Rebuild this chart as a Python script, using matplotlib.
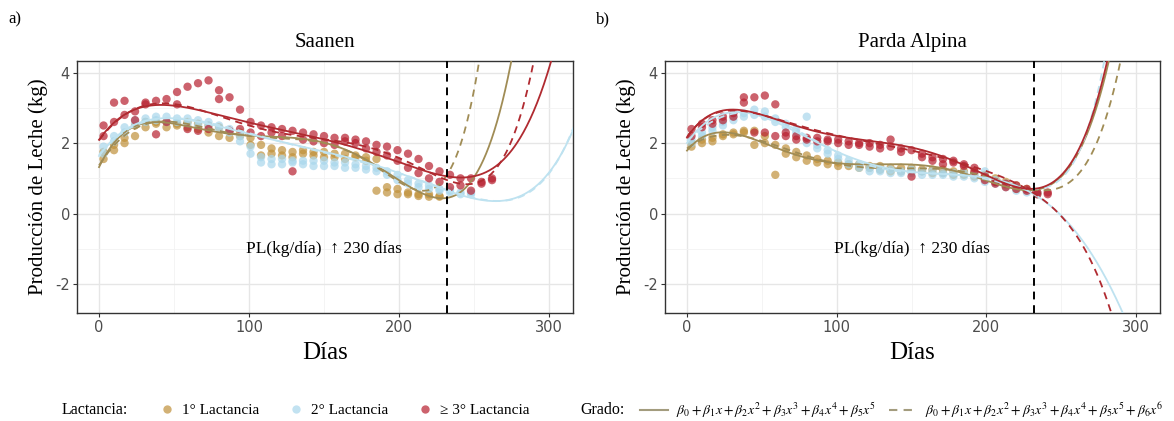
import numpy as np
import matplotlib
matplotlib.use("Agg")
import matplotlib.pyplot as plt
from matplotlib.lines import Line2D
from matplotlib.ticker import MultipleLocator

# ---------------- data ----------------
week_days = [3, 10, 17, 24, 31, 38, 45, 52, 59, 66, 73, 80, 87, 94, 101, 108, 115,
             122, 129, 136, 143, 150, 157, 164, 171, 178, 185, 192, 199, 206, 213,
             220, 227, 234, 241, 248, 255, 262]

# Saanen
sa_l1_a = [1.75, 1.95, 2.15, 2.5, 2.6, 2.6, 2.6, 2.55, 2.6, 2.55, 2.5, 2.45, 2.35, 2.3, 2.15,
           1.95, 1.85, 1.8, 1.75, 1.8, 1.75, 1.75, 1.7, 1.7, 1.65, 1.6, 1.55, 0.75, 0.7, 0.6,
           0.55, 0.55, 0.5]
sa_l1_b = [1.55, 1.8, 2.0, 2.2, 2.45, 2.55, 2.45, 2.5, 2.45, 2.4, 2.3, 2.2, 2.15, 2.2, 1.95,
           1.65, 1.7, 1.65, 1.6, 1.7, 1.65, 1.6, 1.6, 1.55, 1.6, 1.5, 0.65, 0.6, 0.55, 0.55,
           0.5, 0.48, 0.48]
sa_l2_a = [1.9, 2.2, 2.45, 2.65, 2.7, 2.75, 2.75, 2.7, 2.7, 2.65, 2.6, 2.5, 2.4, 2.2, 1.9,
           1.6, 1.55, 1.55, 1.5, 1.5, 1.5, 1.5, 1.45, 1.45, 1.4, 1.35, 1.3, 1.2, 1.1, 0.95,
           0.85, 0.8, 0.7, 0.65, 0.6, 0.6]
sa_l2_b = [1.7, 2.05, 2.3, 2.55, 2.6, 2.65, 2.6, 2.6, 2.55, 2.5, 2.5, 2.4, 2.3, 2.05, 1.7,
           1.45, 1.4, 1.4, 1.45, 1.4, 1.35, 1.35, 1.35, 1.3, 1.3, 1.25, 1.2, 1.1, 0.95, 0.85,
           0.75, 0.7, 0.65, 0.6, 0.55, 0.55]
sa_l3_a = [2.5, 3.15, 3.2, 2.9, 3.15, 3.2, 3.25, 3.45, 3.6, 3.7, 3.78, 3.5, 3.3, 2.95, 2.6,
           2.5, 2.45, 2.4, 2.35, 2.3, 2.25, 2.2, 2.15, 2.15, 2.1, 2.05, 1.95, 1.9, 1.8, 1.7,
           1.55, 1.35, 1.2, 1.1, 1.0, 1.0, 0.9, 1.0]
sa_l3_b = [2.2, 2.6, 2.8, 2.65, 3.1, 2.25, 2.6, 3.1, 2.4, 2.35, 2.4, 3.25, 2.35, 2.4, 2.3,
           2.2, 2.3, 2.2, 1.2, 2.1, 2.05, 2.0, 1.95, 2.05, 2.0, 1.85, 1.75, 1.65, 1.5, 1.3,
           1.15, 1.0, 0.9, 0.75, 0.8, 0.65, 0.85, 0.95]

# Parda Alpina
pa_l1_a = [2.0, 2.1, 2.15, 2.25, 2.3, 2.35, 2.35, 2.2, 1.95, 1.85, 1.75, 1.65, 1.55, 1.5, 1.45,
           1.4, 1.4, 1.35, 1.35, 1.3, 1.3, 1.3, 1.25, 1.25, 1.25, 1.2, 1.2, 1.15, 1.1, 1.0,
           0.9, 0.8, 0.7, 0.6]
pa_l1_b = [1.9, 2.0, 2.05, 2.2, 2.25, 2.3, 1.95, 2.0, 1.1, 1.7, 1.6, 1.5, 1.45, 1.4, 1.35,
           1.35, 1.3, 1.3, 1.25, 1.2, 1.2, 1.2, 1.2, 1.15, 1.15, 1.1, 1.1, 1.05, 1.0, 0.9,
           0.8, 0.7, 0.65, 0.55]
pa_l2_a = [2.1, 2.3, 2.45, 2.6, 2.75, 2.85, 2.95, 2.9, 2.7, 2.55, 2.4, 2.75, 1.95, 1.8, 1.65,
           1.5, 1.4, 1.3, 1.25, 1.25, 1.2, 1.25, 1.2, 1.2, 1.15, 1.15, 1.15, 1.1, 1.2, 0.95,
           0.85, 0.75, 0.65, 0.6]
pa_l2_b = [2.0, 2.2, 2.35, 2.5, 2.65, 2.75, 2.8, 2.75, 2.6, 2.45, 2.3, 2.0, 1.85, 1.7, 1.55,
           1.4, 1.3, 1.2, 1.2, 1.15, 1.15, 1.15, 1.1, 1.1, 1.1, 1.05, 1.05, 1.0, 0.9, 0.85,
           0.75, 0.65, 0.6, 0.55]
pa_l3_a = [2.4, 2.55, 2.65, 2.75, 2.85, 3.3, 3.3, 3.35, 3.1, 2.3, 2.2, 2.15, 2.15, 2.1, 2.1,
           2.05, 2.0, 2.0, 1.95, 1.9, 1.85, 1.8, 1.7, 1.6, 1.55, 1.5, 1.4, 1.3, 1.05, 0.9,
           0.85, 0.8, 0.7, 0.6, 0.6]
pa_l3_b = [2.2, 2.45, 2.55, 2.65, 2.75, 3.15, 2.3, 2.3, 2.2, 2.2, 2.1, 2.1, 2.05, 2.05, 2.0,
           1.95, 1.95, 1.9, 1.85, 2.1, 1.75, 1.05, 1.6, 1.5, 1.4, 1.45, 1.35, 1.2, 0.95, 0.85,
           0.75, 0.7, 0.65, 0.55, 0.55]

# fitted curves (day, kg), smoothed with polynomial of the stated degree
sa_c1_d5 = ([0, 15, 35, 50, 80, 100, 130, 160, 180, 200, 215, 232, 245, 255, 261, 267, 274, 280],
            [1.35, 2.2, 2.55, 2.55, 2.4, 2.25, 2.05, 1.8, 1.55, 1.0, 0.6, 0.5, 0.75, 1.3, 1.87, 3.0, 4.25, 5.5])
sa_c1_d6 = ([0, 15, 35, 50, 80, 100, 130, 160, 180, 200, 215, 228, 236, 243, 249, 253, 258],
            [1.35, 2.2, 2.55, 2.55, 2.4, 2.25, 2.05, 1.8, 1.55, 1.0, 0.65, 0.7, 1.3, 2.26, 3.57, 4.25, 5.5])
sa_c2_d5 = ([0, 10, 30, 50, 80, 110, 140, 170, 195, 215, 232, 250, 265, 278, 296, 307, 314],
            [1.6, 2.2, 2.6, 2.65, 2.5, 2.2, 1.85, 1.55, 1.2, 0.85, 0.65, 0.5, 0.45, 0.45, 0.85, 1.5, 2.3])
sa_c2_d6 = ([0, 10, 30, 50, 80, 110, 140, 170, 195, 215, 232, 250, 265, 278, 296, 307, 314],
            [1.6, 2.2, 2.6, 2.65, 2.5, 2.2, 1.85, 1.55, 1.2, 0.85, 0.65, 0.5, 0.45, 0.45, 0.85, 1.5, 2.3])
sa_c3_d5 = ([0, 15, 30, 45, 65, 90, 120, 150, 170, 195, 215, 232, 247, 261, 274, 285, 294, 301, 308],
            [2.1, 2.7, 3.05, 3.15, 3.0, 2.6, 2.3, 2.1, 1.95, 1.7, 1.3, 1.0, 0.85, 1.0, 1.78, 2.72, 3.57, 4.25, 5.2])
sa_c3_d6 = ([0, 15, 30, 45, 65, 90, 120, 150, 170, 195, 215, 232, 250, 267, 276, 283, 289, 295],
            [2.1, 2.7, 3.05, 3.15, 3.0, 2.6, 2.3, 2.1, 1.95, 1.7, 1.3, 1.0, 0.8, 1.22, 2.26, 3.2, 4.25, 5.4])

pa_c1_d5 = ([0, 15, 30, 45, 60, 80, 100, 140, 180, 210, 232, 243, 254, 265, 276, 281, 286],
            [1.85, 2.15, 2.25, 2.15, 1.9, 1.6, 1.45, 1.3, 1.2, 0.95, 0.58, 0.8, 1.25, 2.1, 3.2, 4.25, 5.2])
pa_c1_d6 = ([0, 15, 30, 45, 60, 80, 100, 140, 180, 210, 232, 243, 257, 272, 283, 289, 294],
            [1.85, 2.15, 2.25, 2.15, 1.9, 1.6, 1.45, 1.3, 1.2, 0.95, 0.58, 0.75, 1.02, 1.78, 3.1, 4.25, 5.3])
pa_c2_d5 = ([0, 15, 30, 45, 60, 80, 100, 120, 150, 180, 210, 232, 254, 268, 281, 291, 296],
            [2.1, 2.5, 2.8, 2.9, 2.7, 2.2, 1.7, 1.35, 1.2, 1.15, 0.9, 0.58, -0.2, -1.05, -1.98, -2.75, -3.3])
pa_c2_d6 = ([0, 15, 30, 45, 60, 80, 100, 120, 150, 180, 210, 232, 243, 255, 266, 274, 278, 283],
            [2.1, 2.5, 2.8, 2.9, 2.7, 2.2, 1.7, 1.35, 1.2, 1.15, 0.9, 0.58, 0.8, 1.3, 2.2, 3.3, 4.3, 5.3])
pa_c3_d5 = ([0, 15, 30, 45, 60, 80, 100, 140, 180, 210, 232, 243, 254, 265, 275, 280, 285],
            [2.2, 2.7, 2.95, 2.9, 2.7, 2.4, 2.2, 1.9, 1.5, 1.0, 0.56, 0.85, 1.3, 2.26, 3.2, 4.25, 5.2])
pa_c3_d6 = ([0, 15, 30, 45, 60, 80, 100, 140, 180, 210, 232, 243, 259, 270, 279, 283, 288],
            [2.2, 2.7, 2.95, 2.9, 2.7, 2.4, 2.2, 1.9, 1.5, 1.0, 0.56, 0.28, -0.57, -1.42, -2.18, -2.75, -3.5])

cutoff_day = 232
panel_titles = ["Saanen", "Parda Alpina"]
panel_tags = ["a)", "b)"]
lact_labels = ["1° Lactancia", "2° Lactancia", "≥ 3° Lactancia"]
grado_labels = [r"$\beta_0+\beta_1x+\beta_2x^2+\beta_3x^3+\beta_4x^4+\beta_5x^5$",
                r"$\beta_0+\beta_1x+\beta_2x^2+\beta_3x^3+\beta_4x^4+\beta_5x^5+\beta_6x^6$"]

# ---------------- style ----------------
plt.rcParams["mathtext.fontset"] = "stix"
SERIF = "Liberation Serif"
pt_colors = ["#C0913A", "#A9D7EC", "#B7202F"]
ln_colors = ["#A08C55", "#BEE2F0", "#B02A30"]
leg_line = "#A39C7E"

W, H = 1174, 421
fig = plt.figure(figsize=(W / 100, H / 100), dpi=100)

axes_px = [(77, 573), (665, 1160)]
top_px, bot_px = 61, 313

panels = [
    dict(points=[(sa_l1_a, sa_l1_b), (sa_l2_a, sa_l2_b), (sa_l3_a, sa_l3_b)],
         curves=[(sa_c1_d5, sa_c1_d6), (sa_c2_d5, sa_c2_d6), (sa_c3_d5, sa_c3_d6)]),
    dict(points=[(pa_l1_a, pa_l1_b), (pa_l2_a, pa_l2_b), (pa_l3_a, pa_l3_b)],
         curves=[(pa_c1_d5, pa_c1_d6), (pa_c2_d5, pa_c2_d6), (pa_c3_d5, pa_c3_d6)]),
]

grid = np.linspace(0, 317, 700)

for i, p in enumerate(panels):
    l, r = axes_px[i]
    ax = fig.add_axes([l / W, 1 - bot_px / H, (r - l) / W, (bot_px - top_px) / H])
    ax.set_xlim(-14.7, 316)
    ax.set_ylim(-2.82, 4.33)
    ax.xaxis.set_major_locator(MultipleLocator(100))
    ax.xaxis.set_minor_locator(MultipleLocator(50))
    ax.yaxis.set_major_locator(MultipleLocator(2))
    ax.yaxis.set_minor_locator(MultipleLocator(1))
    ax.grid(which="major", color="#E6E6E6", lw=1.0, zorder=0)
    ax.grid(which="minor", color="#F2F2F2", lw=0.6, zorder=0)
    ax.set_axisbelow(True)
    for s in ax.spines.values():
        s.set_color("#333333")
        s.set_linewidth(1.0)
    ax.tick_params(which="major", length=3, color="#333333", labelsize=10.5,
                   labelcolor="#4D4D4D", pad=2)
    ax.tick_params(which="minor", length=0)
    ax.set_yticks([-2, 0, 2, 4])
    ax.set_yticklabels(["-2", "0", "2", "4"])

    for k, (va, vb) in enumerate(p["points"]):
        for vals in (va, vb):
            ax.scatter(week_days[:len(vals)], vals, s=36, color=pt_colors[k], alpha=0.7,
                       edgecolors="none", zorder=2)

    for k, (c5, c6) in enumerate(p["curves"]):
        for (cx, cy), deg, ls in ((c5, 5, "-"), (c6, 6, (0, (4, 3)))):
            coef = np.polyfit(np.array(cx) / 100.0, cy, deg)
            ax.plot(grid, np.polyval(coef, grid / 100.0), color=ln_colors[k], lw=1.3,
                    ls=ls, zorder=3)

    ax.axvline(cutoff_day, color="black", lw=1.4, ls=(0, (4, 3)), zorder=4)
    ax.text(150, -1.0, "PL(kg/día)  \u2191 230 días", ha="center", va="center",
            fontsize=12.5, family=["Liberation Serif", "DejaVu Sans"], zorder=5)

    ax.set_title(panel_titles[i], family=SERIF, fontsize=15, pad=10)
    ax.set_xlabel("Días", family=SERIF, fontsize=18, labelpad=5)
    ax.set_ylabel("Producción de Leche (kg)", family=SERIF, fontsize=15, labelpad=5)

fig.text(8 / W, 1 - 19 / H, panel_tags[0], family=SERIF, fontsize=12, va="center")
fig.text(596 / W, 1 - 19 / H, panel_tags[1], family=SERIF, fontsize=12, va="center")

# legends
ly = 1 - 410 / H
fig.text(62 / W, ly, "Lactancia:", family=SERIF, fontsize=11.5, va="center")
pt_handles = [Line2D([], [], ls="", marker="o", ms=6, color=c, alpha=0.7, mec="none")
              for c in pt_colors]
fig.legend(pt_handles, lact_labels, loc="center left", bbox_to_anchor=(159 / W, ly),
           ncol=3, frameon=False, prop={"family": SERIF, "size": 11},
           handlelength=1.0, handletextpad=0.5, columnspacing=1.9, borderaxespad=0,
           borderpad=0)
fig.text(580 / W, ly, "Grado:", family=SERIF, fontsize=11.5, va="center")
ln_handles = [Line2D([], [], color=leg_line, lw=1.5, ls="-"),
              Line2D([], [], color=leg_line, lw=1.5, ls=(0, (4, 3)))]
fig.legend(ln_handles, grado_labels, loc="center left", bbox_to_anchor=(640 / W, ly),
           ncol=2, frameon=False, prop={"size": 10},
           handlelength=2.0, handletextpad=0.58, columnspacing=0.95, borderaxespad=0,
           borderpad=0)

fig.savefig("out.png", dpi=100)
